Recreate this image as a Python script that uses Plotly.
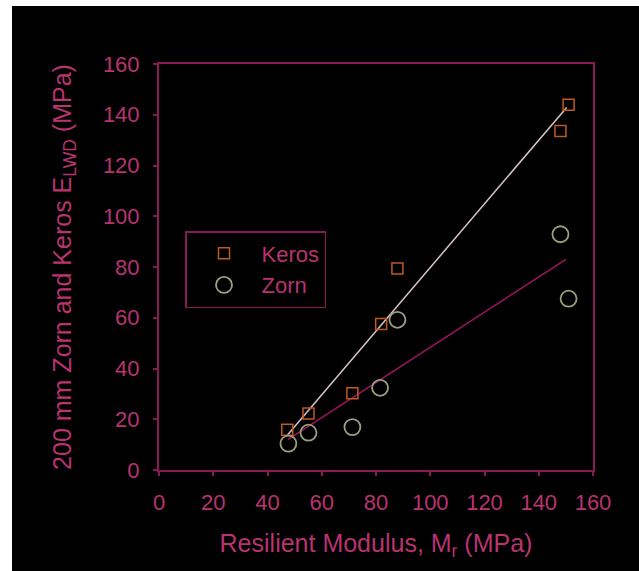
import plotly.graph_objects as go

# Data
keros_x = [47.3, 55.1, 71.3, 81.9, 87.9, 148.0, 151.0]
keros_y = [15.9, 22.3, 30.2, 57.5, 79.4, 133.6, 143.9]

zorn_x = [47.7, 55.1, 71.3, 81.5, 87.9, 148.0, 151.0]
zorn_y = [10.4, 14.7, 16.9, 32.4, 59.2, 92.9, 67.5]

# Trend lines (end points as drawn in the reference)
keros_fit_x = [47.3, 150.3]
keros_fit_y = [13.7, 142.9]
zorn_fit_x = [47.5, 150.0]
zorn_fit_y = [12.0, 83.0]

TEXT = "#b8336f"
AXIS = "#8a1a55"
FONT = "Liberation Sans, Arial, sans-serif"

fig = go.Figure()

fig.add_trace(go.Scatter(x=keros_fit_x, y=keros_fit_y, mode="lines",
                         line=dict(color="#d8c4c4", width=1.5),
                         showlegend=False, hoverinfo="skip"))
fig.add_trace(go.Scatter(x=zorn_fit_x, y=zorn_fit_y, mode="lines",
                         line=dict(color="#a01460", width=1.5),
                         showlegend=False, hoverinfo="skip"))

fig.add_trace(go.Scatter(x=keros_x, y=keros_y, mode="markers", name="Keros",
                         marker=dict(symbol="square-open", size=11,
                                     color="#c05a20", line=dict(width=1.5))))
fig.add_trace(go.Scatter(x=zorn_x, y=zorn_y, mode="markers", name="Zorn",
                         marker=dict(symbol="circle-open", size=16,
                                     color="#98a07c", line=dict(width=1.8))))

L, R, T, B = 159, 46, 64, 101
W = 639 - L - R
H = 571 - T - B

axis_common = dict(
    range=[0, 160], dtick=20, showgrid=False, zeroline=False,
    showline=True, linecolor=AXIS, linewidth=2, mirror=True,
    ticks="outside", ticklen=4, tickcolor=AXIS, tickwidth=1.5,
    tickfont=dict(family=FONT, size=22, color=TEXT),
)

fig.update_layout(
    width=639, height=571,
    margin=dict(l=L, r=R, t=T, b=B),
    paper_bgcolor="white",
    plot_bgcolor="black",
    font=dict(family=FONT, color=TEXT),
    xaxis=dict(**axis_common, ticklabelstandoff=8,
               title=dict(text="Resilient Modulus, M<sub>r</sub> (MPa)",
                          font=dict(family=FONT, size=25, color=TEXT),
                          standoff=20)),
    yaxis=dict(**axis_common, ticklabelstandoff=9,
               title=dict(text="200 mm Zorn and Keros E<sub>LWD</sub> (MPa)",
                          font=dict(family=FONT, size=25, color=TEXT),
                          standoff=24)),
    legend=dict(x=(185 - L) / W, y=(470 - 231) / H, xanchor="left", yanchor="top",
                bgcolor="black", bordercolor=AXIS, borderwidth=1.5,
                font=dict(family=FONT, size=22, color=TEXT),
                itemwidth=65, tracegroupgap=0),
    shapes=[dict(type="rect", xref="paper", yref="paper",
                 x0=(12 - L) / W, x1=(660 - L) / W,
                 y0=(470 - 600) / H, y1=(470 - 6) / H,
                 fillcolor="black", line=dict(width=0), layer="below")],
)

fig.write_html("out.html", config={"displayModeBar": False},
               post_script="document.body.style.margin='0';document.body.style.padding='0';document.body.style.overflow='hidden';")
